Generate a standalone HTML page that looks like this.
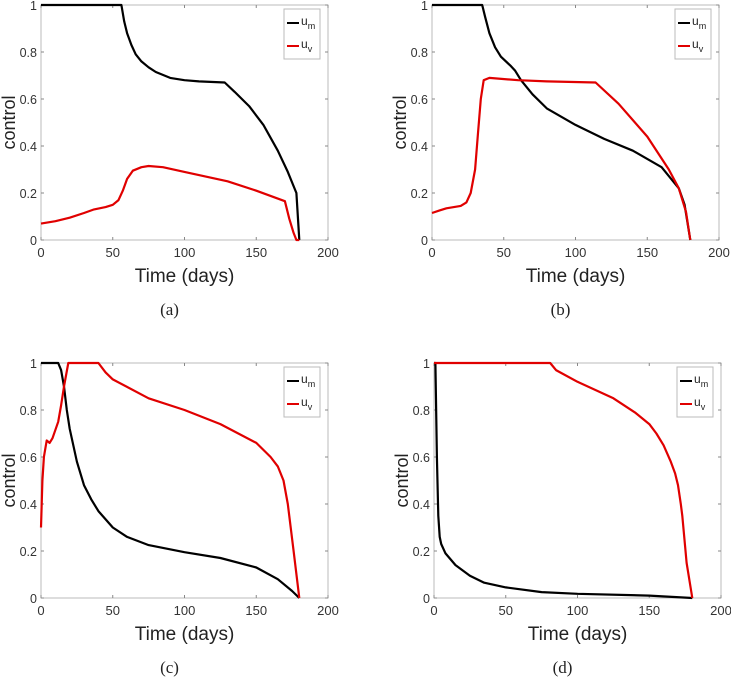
<!DOCTYPE html>
<html><head><meta charset="utf-8"><style>
body{margin:0;background:#fff;}
svg{display:block;font-family:"Liberation Sans",sans-serif;}
</style></head><body>
<svg id="fig" width="731" height="678" viewBox="0 0 731 678"></svg>
<script>
const xTicks=[0,50,100,150,200];
const yTicks=[0,0.2,0.4,0.6,0.8,1];
const yTickLabels=["0","0.2","0.4","0.6","0.8","1"];
const captions=["(a)","(b)","(c)","(d)"];
const aUm=[[0,1],[56,1],[58,.93],[60,.88],[63,.83],[66,.79],[70,.76],[75,.735],[80,.715],[90,.69],[100,.68],[110,.675],[128,.67],[135,.63],[145,.57],[155,.49],[165,.38],[172,.29],[178,.2],[180,0]];
const aUv=[[0,.07],[10,.08],[20,.095],[30,.115],[37,.13],[45,.14],[50,.15],[54,.17],[57,.21],[60,.26],[64,.295],[70,.31],[75,.315],[85,.31],[100,.29],[130,.25],[150,.21],[170,.165],[173,.09],[176,.03],[178,0],[180,0]];
const bUm=[[0,1],[35,1],[37,.95],[40,.88],[44,.82],[48,.78],[55,.74],[58,.72],[62,.68],[70,.62],[80,.56],[100,.49],[120,.43],[140,.38],[160,.31],[172,.22],[176,.15],[180,0]];
const bUv=[[0,.115],[5,.125],[10,.135],[20,.145],[24,.16],[27,.2],[30,.3],[32,.45],[34,.6],[36,.68],[40,.69],[60,.68],[80,.675],[114,.67],[130,.58],[150,.44],[165,.3],[172,.22],[177,.12],[180,0]];
const cUm=[[0,1],[12,1],[14,.97],[16,.9],[18,.8],[20,.72],[25,.58],[30,.48],[35,.42],[40,.37],[50,.3],[60,.26],[75,.225],[100,.195],[125,.17],[150,.13],[165,.08],[175,.03],[180,0]];
const cUv=[[0,.3],[1,.5],[2,.6],[4,.67],[6,.66],[8,.68],[12,.75],[14,.82],[16,.9],[19,1],[40,1],[45,.96],[50,.93],[75,.85],[100,.8],[125,.74],[150,.66],[160,.6],[165,.56],[169,.5],[172,.4],[174,.3],[176,.2],[180,0]];
const dUm=[[0,1],[1,1],[2,.6],[3,.35],[4,.26],[5,.23],[8,.19],[15,.14],[25,.095],[35,.065],[50,.045],[75,.025],[100,.018],[150,.01],[180,0]];
const dUv=[[0,1],[81,1],[85,.97],[100,.92],[125,.85],[140,.79],[150,.74],[155,.7],[160,.65],[165,.58],[168,.53],[170,.48],[172,.4],[173,.35],[175,.22],[176,.15],[180,0]];
const panels=[{x:41,y:5,um:aUm,uv:aUv},{x:432,y:5,um:bUm,uv:bUv},{x:41,y:363,um:cUm,uv:cUv},{x:434,y:363,um:dUm,uv:dUv}];
const W=287,H=235;
const NS="http://www.w3.org/2000/svg";
const svg=document.getElementById('fig');
function mk(tag,attrs,parent,text){const e=document.createElementNS(NS,tag);for(const k in attrs)e.setAttribute(k,attrs[k]);if(text!==undefined)e.textContent=text;parent.appendChild(e);return e;}
panels.forEach((p,i)=>{
  const g=mk('g',{},svg);
  
  
  const sx=v=>p.x+v/200*W, sy=v=>p.y+H-v*H;
  const box=mk('rect',{x:p.x,y:p.y,width:W,height:H,fill:'#fff',stroke:'#bbb','stroke-width':1},g);
  
  
  xTicks.forEach(t=>{
    mk('line',{x1:sx(t),x2:sx(t),y1:p.y+H,y2:p.y+H-3,stroke:'#888'},g);
    mk('line',{x1:sx(t),x2:sx(t),y1:p.y,y2:p.y+3,stroke:'#888'},g);
    const tx=mk('text',{x:sx(t),y:p.y+H+17,'font-size':13,'text-anchor':'middle',fill:'#333'},g,String(t));
    
    
  });
  yTicks.forEach((t,j)=>{
    mk('line',{x1:p.x,x2:p.x+3,y1:sy(t),y2:sy(t),stroke:'#888'},g);
    mk('line',{x1:p.x+W,x2:p.x+W-3,y1:sy(t),y2:sy(t),stroke:'#888'},g);
    const ty=mk('text',{x:p.x-4,y:sy(t)+5,'font-size':12.5,'text-anchor':'end',fill:'#333'},g,yTickLabels[j]);
    
    
  });
  const xt=mk('text',{x:p.x+W/2,y:p.y+H+42,'font-size':19,'text-anchor':'middle',fill:'#222'},g,'Time (days)');
  
  
  const yt=mk('text',{x:0,y:0,'font-size':18,'text-anchor':'middle',fill:'#222',transform:`translate(${p.x-26},${p.y+H/2}) rotate(-90)`},g,'control');
  
  
  const cap=mk('text',{x:p.x+W/2-15,y:p.y+H+75,'font-size':17,'text-anchor':'middle',fill:'#222','font-family':'Liberation Serif, serif'},g,captions[i]);
  
  
  const path=arr=>arr.map((d,k)=>(k?'L':'M')+sx(d[0]).toFixed(1)+','+sy(d[1]).toFixed(1)).join('');
  const l1=mk('path',{d:path(p.um),fill:'none',stroke:'#000','stroke-width':2.2,'stroke-linejoin':'round'},g);
  
  
  const l2=mk('path',{d:path(p.uv),fill:'none',stroke:'#e00000','stroke-width':2.2,'stroke-linejoin':'round'},g);
  
  
  const lg=mk('g',{},g);
  
  
  const lx=p.x+W-44,ly=p.y+4;
  mk('rect',{x:lx,y:ly,width:36,height:50,fill:'#fff',stroke:'#bbb'},lg);
  mk('line',{x1:lx+3,x2:lx+15,y1:ly+14,y2:ly+14,stroke:'#000','stroke-width':2},lg);
  mk('line',{x1:lx+3,x2:lx+15,y1:ly+37,y2:ly+37,stroke:'#e00000','stroke-width':2},lg);
  const t1=mk('text',{x:lx+17,y:ly+16,'font-size':12,fill:'#222'},lg);
  t1.innerHTML='u<tspan font-size="9" dy="4">m</tspan>';
  
  
  const t2=mk('text',{x:lx+17,y:ly+39,'font-size':12,fill:'#222'},lg);
  t2.innerHTML='u<tspan font-size="9" dy="4">v</tspan>';
  
  
});
</script>
</body></html>
